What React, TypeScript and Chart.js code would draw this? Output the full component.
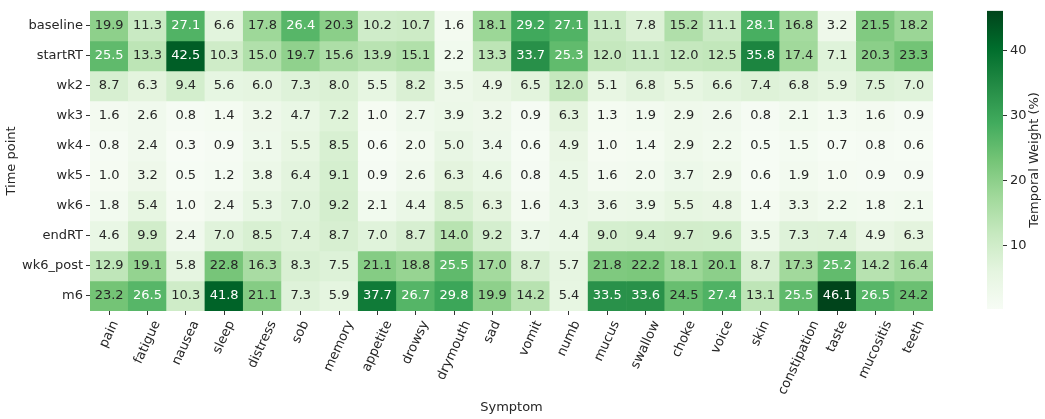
import { useEffect, useRef } from "react";
import { Chart, registerables } from "chart.js";

Chart.register(...registerables);
Chart.defaults.font.family = "'DejaVu Sans', sans-serif";

const symptoms = [
  "pain", "fatigue", "nausea", "sleep", "distress", "sob", "memory", "appetite",
  "drowsy", "drymouth", "sad", "vomit", "numb", "mucus", "swallow", "choke",
  "voice", "skin", "constipation", "taste", "mucositis", "teeth",
];
const timePoints = ["baseline", "startRT", "wk2", "wk3", "wk4", "wk5", "wk6", "endRT", "wk6_post", "m6"];

const baseline = [19.9, 11.3, 27.1, 6.6, 17.8, 26.4, 20.3, 10.2, 10.7, 1.6, 18.1, 29.2, 27.1, 11.1, 7.8, 15.2, 11.1, 28.1, 16.8, 3.2, 21.5, 18.2];
const startRT = [25.5, 13.3, 42.5, 10.3, 15.0, 19.7, 15.6, 13.9, 15.1, 2.2, 13.3, 33.7, 25.3, 12.0, 11.1, 12.0, 12.5, 35.8, 17.4, 7.1, 20.3, 23.3];
const wk2 = [8.7, 6.3, 9.4, 5.6, 6.0, 7.3, 8.0, 5.5, 8.2, 3.5, 4.9, 6.5, 12.0, 5.1, 6.8, 5.5, 6.6, 7.4, 6.8, 5.9, 7.5, 7.0];
const wk3 = [1.6, 2.6, 0.8, 1.4, 3.2, 4.7, 7.2, 1.0, 2.7, 3.9, 3.2, 0.9, 6.3, 1.3, 1.9, 2.9, 2.6, 0.8, 2.1, 1.3, 1.6, 0.9];
const wk4 = [0.8, 2.4, 0.3, 0.9, 3.1, 5.5, 8.5, 0.6, 2.0, 5.0, 3.4, 0.6, 4.9, 1.0, 1.4, 2.9, 2.2, 0.5, 1.5, 0.7, 0.8, 0.6];
const wk5 = [1.0, 3.2, 0.5, 1.2, 3.8, 6.4, 9.1, 0.9, 2.6, 6.3, 4.6, 0.8, 4.5, 1.6, 2.0, 3.7, 2.9, 0.6, 1.9, 1.0, 0.9, 0.9];
const wk6 = [1.8, 5.4, 1.0, 2.4, 5.3, 7.0, 9.2, 2.1, 4.4, 8.5, 6.3, 1.6, 4.3, 3.6, 3.9, 5.5, 4.8, 1.4, 3.3, 2.2, 1.8, 2.1];
const endRT = [4.6, 9.9, 2.4, 7.0, 8.5, 7.4, 8.7, 7.0, 8.7, 14.0, 9.2, 3.7, 4.4, 9.0, 9.4, 9.7, 9.6, 3.5, 7.3, 7.4, 4.9, 6.3];
const wk6Post = [12.9, 19.1, 5.8, 22.8, 16.3, 8.3, 7.5, 21.1, 18.8, 25.5, 17.0, 8.7, 5.7, 21.8, 22.2, 18.1, 20.1, 8.7, 17.3, 25.2, 14.2, 16.4];
const m6 = [23.2, 26.5, 10.3, 41.8, 21.1, 7.3, 5.9, 37.7, 26.7, 29.8, 19.9, 14.2, 5.4, 33.5, 33.6, 24.5, 27.4, 13.1, 25.5, 46.1, 26.5, 24.2];

const weights = [baseline, startRT, wk2, wk3, wk4, wk5, wk6, endRT, wk6Post, m6];
const colorbarTicks = [10, 20, 30, 40];

// matplotlib "Greens"
const greens = ["#f7fcf5", "#e5f5e0", "#c7e9c0", "#a1d99b", "#74c476", "#41ab5d", "#238b45", "#006d2c", "#00441b"];

const allValues = weights.flat();
const vmin = Math.min(...allValues);
const vmax = Math.max(...allValues);

const TEXT = "#262626";
const FONT = "13px 'DejaVu Sans', sans-serif";

function hexToRgb(h: string) {
  const n = parseInt(h.slice(1), 16);
  return [(n >> 16) & 255, (n >> 8) & 255, n & 255];
}
const greensRgb = greens.map(hexToRgb);

function colorFor(v: number) {
  const t = Math.min(1, Math.max(0, (v - vmin) / (vmax - vmin))) * (greens.length - 1);
  const k = Math.min(greens.length - 2, Math.floor(t));
  const f = t - k;
  const a = greensRgb[k];
  const b = greensRgb[k + 1];
  return a.map((c, i) => Math.round(c + (b[i] - c) * f));
}

function textColorFor(v: number) {
  const lin = colorFor(v).map((c) => {
    const s = c / 255;
    return s <= 0.03928 ? s / 12.92 : Math.pow((s + 0.055) / 1.055, 2.4);
  });
  const lum = 0.2126 * lin[0] + 0.7152 * lin[1] + 0.0722 * lin[2];
  return lum > 0.408 ? TEXT : "#ffffff";
}

const rgb = (c: number[]) => `rgb(${c[0]},${c[1]},${c[2]})`;

const cellLabels = {
  id: "cellLabels",
  afterDatasetsDraw(chart: any) {
    const ctx = chart.ctx;
    ctx.save();
    ctx.font = FONT;
    ctx.textAlign = "center";
    ctx.textBaseline = "middle";
    weights.forEach((row, i) => {
      const meta = chart.getDatasetMeta(i);
      row.forEach((v, j) => {
        const { x, y } = meta.data[j].getCenterPoint();
        ctx.fillStyle = textColorFor(v);
        ctx.fillText(v.toFixed(1), x, y);
      });
    });
    ctx.restore();
  },
};

// rotated x labels, centred on the tick like matplotlib's ha="center"
const symptomLabels = {
  id: "symptomLabels",
  afterDraw(chart: any) {
    const ctx = chart.ctx;
    const xs = chart.scales.x;
    const top = chart.chartArea.bottom + 4 + 3.5;
    const a = (65 * Math.PI) / 180;
    ctx.save();
    ctx.font = FONT;
    ctx.fillStyle = TEXT;
    ctx.textAlign = "center";
    ctx.textBaseline = "middle";
    symptoms.forEach((s, i) => {
      const x = xs.getPixelForValue(i);
      const w = ctx.measureText(s).width;
      const bh = w * Math.sin(a) + 15 * Math.cos(a);
      ctx.save();
      ctx.translate(x, top + bh / 2);
      ctx.rotate(-a);
      ctx.fillText(s, 0, 0);
      ctx.restore();
    });
    ctx.restore();
  },
};

const colorbarTitle = {
  id: "colorbarTitle",
  afterDraw(chart: any) {
    const ctx = chart.ctx;
    const { top, bottom } = chart.chartArea;
    ctx.save();
    ctx.font = FONT;
    ctx.fillStyle = TEXT;
    ctx.textAlign = "center";
    ctx.textBaseline = "middle";
    ctx.translate(85, (top + bottom) / 2);
    ctx.rotate(-Math.PI / 2);
    ctx.fillText("Temporal Weight (%)", 0, 0);
    ctx.restore();
  },
};

function Heatmap() {
  const canvasRef = useRef<HTMLCanvasElement>(null);
  const chartRef = useRef<Chart | null>(null);

  useEffect(() => {
    if (!canvasRef.current) return;
    if (chartRef.current) chartRef.current.destroy();

    chartRef.current = new Chart(canvasRef.current, {
      type: "bar",
      data: {
        labels: symptoms,
        datasets: weights.map((row, i) => ({
          label: timePoints[i],
          data: row.map(() => [i, i + 1]),
          backgroundColor: row.map((v) => rgb(colorFor(v))),
          borderWidth: 0,
          grouped: false,
          barPercentage: 1,
          categoryPercentage: 1,
        })) as any,
      },
      options: {
        animation: false,
        responsive: true,
        maintainAspectRatio: false,
        layout: { padding: { top: 5, right: 17, left: 0, bottom: 0 } },
        plugins: { legend: { display: false }, tooltip: { enabled: false } },
        scales: {
          x: {
            grid: { drawOnChartArea: false, offset: false, tickLength: 4, color: "#333" },
            border: { display: false },
            ticks: { display: false, autoSkip: false },
            title: { display: true, text: "Symptom", color: TEXT, font: { size: 13 }, padding: { top: 4, bottom: 4 } },
            afterFit: (s: any) => {
              s.height = 108;
            },
          },
          y: {
            type: "linear",
            min: 0,
            max: 10,
            reverse: true,
            afterBuildTicks: (s: any) => {
              s.ticks = timePoints.map((_, i) => ({ value: i + 0.5 }));
            },
            grid: { drawOnChartArea: false, tickLength: 4, color: "#333" },
            border: { display: false },
            ticks: {
              autoSkip: false,
              color: TEXT,
              font: { size: 13 },
              padding: 3,
              callback: (_v: any, idx: number) => timePoints[idx],
            },
            title: { display: true, text: "Time point", color: TEXT, font: { size: 13 }, padding: 4 },
            afterFit: (s: any) => {
              s.width = 90;
            },
          },
        },
      },
      plugins: [cellLabels, symptomLabels],
    });

    return () => {
      chartRef.current?.destroy();
    };
  }, []);

  return <canvas ref={canvasRef} />;
}

function Colorbar() {
  const canvasRef = useRef<HTMLCanvasElement>(null);
  const chartRef = useRef<Chart | null>(null);

  useEffect(() => {
    if (!canvasRef.current) return;
    if (chartRef.current) chartRef.current.destroy();

    chartRef.current = new Chart(canvasRef.current, {
      type: "bar",
      data: {
        labels: [""],
        datasets: [
          {
            data: [[vmin, vmax]] as any,
            borderWidth: 0,
            barPercentage: 1,
            categoryPercentage: 1,
            backgroundColor: (c: any) => {
              const area = c.chart.chartArea;
              if (!area) return greens[0];
              const g = c.chart.ctx.createLinearGradient(0, area.bottom, 0, area.top);
              greens.forEach((col, k) => g.addColorStop(k / (greens.length - 1), col));
              return g;
            },
          },
        ],
      },
      options: {
        animation: false,
        responsive: true,
        maintainAspectRatio: false,
        layout: { padding: { top: 5, right: 0, left: 37, bottom: 110 } },
        plugins: { legend: { display: false }, tooltip: { enabled: false } },
        scales: {
          x: { display: false },
          y: {
            position: "right",
            min: vmin,
            max: vmax,
            afterBuildTicks: (s: any) => {
              s.ticks = colorbarTicks.map((v) => ({ value: v }));
            },
            grid: { drawOnChartArea: false, tickLength: 4, color: "#333" },
            border: { display: false },
            ticks: { color: TEXT, font: { size: 13 }, padding: 3 },
            afterFit: (s: any) => {
              s.width = 42;
            },
          },
        },
      },
      plugins: [colorbarTitle],
    });

    return () => {
      chartRef.current?.destroy();
    };
  }, []);

  return <canvas ref={canvasRef} />;
}

export default function App() {
  return (
    <div style={{ position: "absolute", left: 0, top: 0, width: 1045, height: 419, background: "#fff" }}>
      <div style={{ position: "absolute", left: 0, top: 0, width: 950, height: 419 }}>
        <Heatmap />
      </div>
      <div style={{ position: "absolute", left: 950, top: 0, width: 95, height: 419 }}>
        <Colorbar />
      </div>
    </div>
  );
}
